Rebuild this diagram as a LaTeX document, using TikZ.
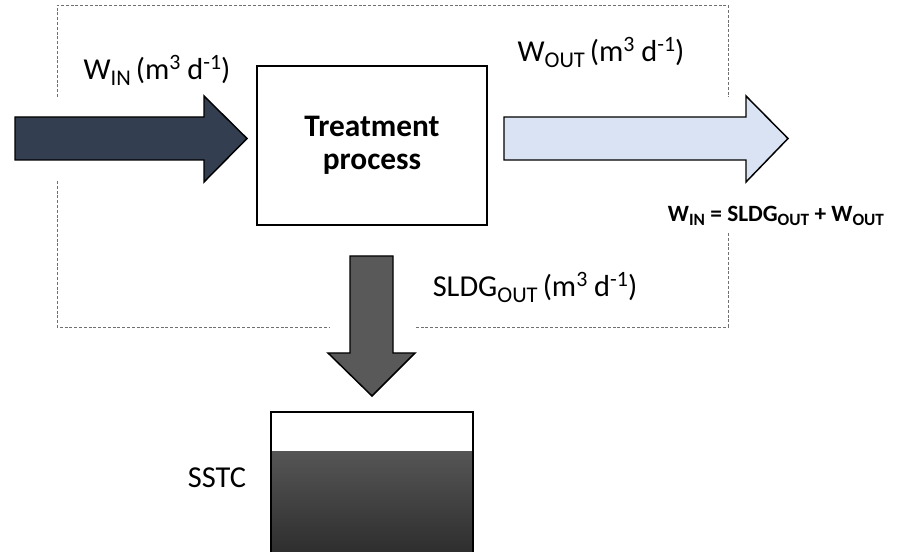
\documentclass[tikz,border=0pt]{standalone}
\usepackage{fontspec}
\setmainfont{Carlito}
\definecolor{inblue}{HTML}{333F50}
\definecolor{outblue}{HTML}{DAE3F3}
\definecolor{sludge}{HTML}{595959}
\definecolor{tanktop}{HTML}{555555}
\definecolor{tankbot}{HTML}{2B2B2B}
\definecolor{dashgray}{HTML}{707070}
\newcommand{\mysub}[1]{\raisebox{-0.35ex}{\scalebox{0.74}{#1}}}
\newcommand{\mysup}[1]{\raisebox{0.75ex}{\scalebox{0.72}{#1}}}
\tikzset{
  blockarrow/.style={draw=black, line width=1.1pt, line join=miter},
  sysbound/.style={draw=dashgray, line width=0.6pt, dash pattern=on 2.2pt off 1.4pt},
  lbl/.style={anchor=base, inner sep=0pt, font=\fontsize{22.8}{26}\selectfont},
  eqlbl/.style={anchor=base, inner sep=0pt, font=\fontsize{17.5}{20}\selectfont\bfseries},
}
\begin{document}
\begin{tikzpicture}[x=0.75pt, y=-0.75pt]
\useasboundingbox (0,0) rectangle (901,552);
\clip (0,0) rectangle (901,552);
% system boundary
\draw[sysbound] (57,97) -- (57,5) -- (728,5) -- (728,97);
\draw[sysbound] (57,181) -- (57,327) -- (329,327);
\draw[sysbound] (728,233) -- (728,327) -- (415,327);
% treatment process
\node[draw=black, line width=1.1pt, minimum width=172.5pt, minimum height=119.25pt, inner sep=0pt,
      align=center, font=\fontsize{23.5}{24.75}\selectfont\bfseries] (proc) at (372,145.5) {Treatment\\process};
% inflow arrow
\draw[blockarrow, fill=inblue] (15,117) -- (204,117) -- (204,96) -- (247,138.5) -- (204,182) -- (204,160) -- (15,160) -- cycle;
% outflow arrow
\draw[blockarrow, fill=outblue] (504,117) -- (746,117) -- (746,96) -- (788,138.5) -- (746,182) -- (746,160) -- (504,160) -- cycle;
% sludge arrow
\draw[blockarrow, fill=sludge] (350,256) -- (393,256) -- (393,353) -- (415,353) -- (372,396) -- (328,353) -- (350,353) -- cycle;
% tank
\shade[top color=tanktop, bottom color=tankbot] (271,452) rectangle (473,560);
\draw[black, line width=1.1pt] (271,560) -- (271,412) -- (473,412) -- (473,560);
% labels
\node[lbl] (win) at (157,80) {W\mysub{IN}\,(m\mysup{3} d\mysup{-1})};
\node[lbl] (wout) at (601,62) {W\mysub{OUT}\,(m\mysup{3} d\mysup{-1})};
\node[lbl] (sldg) at (535,297) {SLDG\mysub{OUT}\,(m\mysup{3} d\mysup{-1})};
\node[lbl] (sstc) at (217,488) {SSTC};
\node[eqlbl] (eq) at (776,222) {W\mysub{IN} = SLDG\mysub{OUT} + W\mysub{OUT}};
\end{tikzpicture}
\end{document}
